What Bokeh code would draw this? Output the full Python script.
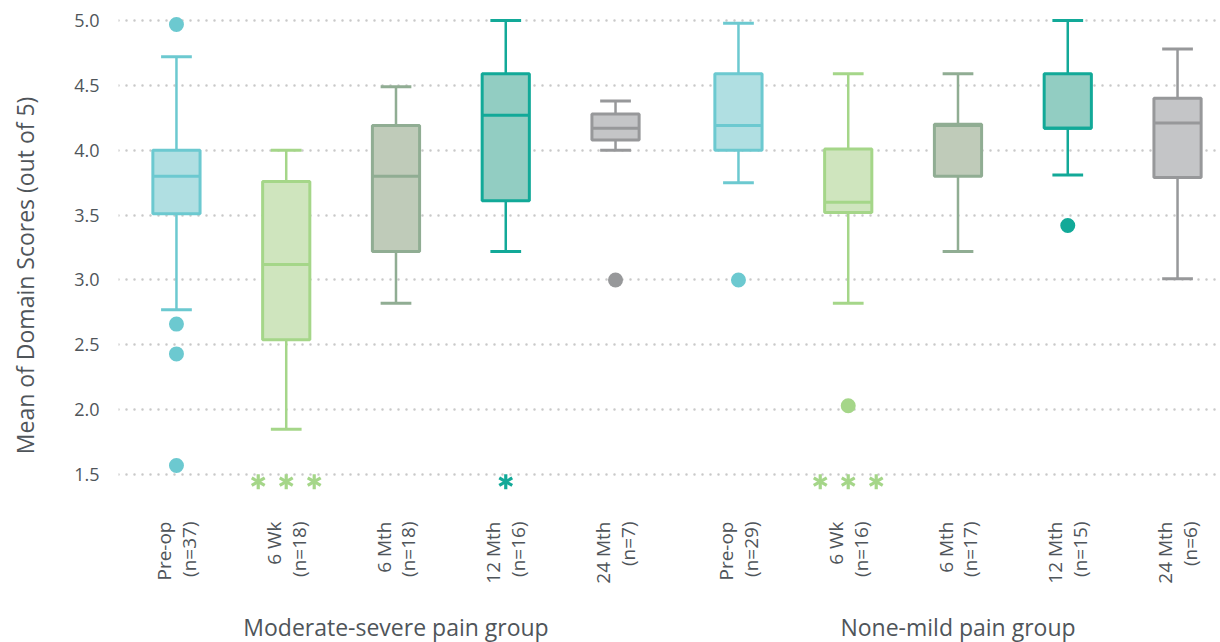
import math
from bokeh.plotting import figure
from bokeh.models import (ColumnDataSource, FixedTicker, LinearAxis, Range1d,
                          PrintfTickFormatter)
from bokeh.embed import file_html
from bokeh.resources import INLINE

# ---------------- data ----------------
groups = ["Moderate-severe pain group", "None-mild pain group"]
timepoints = ["Pre-op", "6 Wk", "6 Mth", "12 Mth", "24 Mth"]
n_mod = [37, 18, 18, 16, 7]
n_none = [29, 16, 17, 15, 6]

# box statistics per group (Pre-op, 6 Wk, 6 Mth, 12 Mth, 24 Mth)
lower_mod = [2.77, 1.85, 2.82, 3.22, 4.00]
q1_mod = [3.51, 2.54, 3.22, 3.61, 4.08]
median_mod = [3.80, 3.12, 3.80, 4.27, 4.17]
q3_mod = [4.00, 3.76, 4.19, 4.59, 4.28]
upper_mod = [4.72, 4.00, 4.49, 5.00, 4.38]

lower_none = [3.75, 2.82, 3.22, 3.81, 3.01]
q1_none = [4.00, 3.52, 3.80, 4.17, 3.79]
median_none = [4.19, 3.60, 4.19, 4.17, 4.21]
q3_none = [4.59, 4.01, 4.20, 4.59, 4.40]
upper_none = [4.98, 4.59, 4.59, 5.00, 4.78]

# outliers: (timepoint index, value)
outliers_mod = [(0, 4.97), (0, 2.66), (0, 2.43), (0, 1.57), (4, 3.00)]
outliers_none = [(0, 3.00), (1, 2.03), (3, 3.42)]

# extreme (off-scale) cases, shown as asterisks below the axis
extremes_mod = [0, 3, 0, 1, 0]
extremes_none = [0, 3, 0, 0, 0]
EXTREME_Y = 1.445

y_ticks = [1.5, 2.0, 2.5, 3.0, 3.5, 4.0, 4.5, 5.0]
y_title = "Mean of Domain Scores (out of 5)"

# ---------------- styles ----------------
line_colors = ["#6cc9d0", "#a5d689", "#90ad93", "#12a998", "#97989a"]
fill_colors = ["#b0dfe2", "#cfe5be", "#bfcbb9", "#92cdc2", "#c4c5c7"]
TEXT = "#4f555a"
FONT = "Open Sans"
GROUP_GAP = 0.12
BOX_W = 0.43
CAP_W = 0.28

def xpos(g, i):
    return g * (len(timepoints) + GROUP_GAP) + i

xs, q1s, q3s, meds, los, his, lc, fc, labels = [], [], [], [], [], [], [], [], []
for g, (lo, q1, md, q3, hi, ns) in enumerate([
        (lower_mod, q1_mod, median_mod, q3_mod, upper_mod, n_mod),
        (lower_none, q1_none, median_none, q3_none, upper_none, n_none)]):
    for i in range(len(timepoints)):
        x = xpos(g, i)
        xs.append(x)
        q1s.append(q1[i]); q3s.append(q3[i]); meds.append(md[i])
        los.append(lo[i]); his.append(hi[i])
        lc.append(line_colors[i]); fc.append(fill_colors[i])
        labels.append(f"{timepoints[i]}\n(n={ns[i]})")

src = ColumnDataSource(dict(
    x=xs, q1=q1s, q3=q3s, med=meds, lo=los, hi=his, lc=lc, fc=fc,
    xl=[x - BOX_W / 2 for x in xs], xr=[x + BOX_W / 2 for x in xs],
    cl=[x - CAP_W / 2 for x in xs], cr=[x + CAP_W / 2 for x in xs],
))

ox, oy, oc = [], [], []
for g, outs in enumerate([outliers_mod, outliers_none]):
    for i, v in outs:
        ox.append(xpos(g, i)); oy.append(v); oc.append(line_colors[i])

ex, ey, ec = [], [], []
for g, ext in enumerate([extremes_mod, extremes_none]):
    for i, cnt in enumerate(ext):
        for k in range(cnt):
            off = (k - (cnt - 1) / 2) * 0.255
            ex.append(xpos(g, i) + off); ey.append(EXTREME_Y); ec.append(line_colors[i])

# ---------------- figure ----------------
p = figure(frame_width=1098, frame_height=478, output_backend="svg", toolbar_location=None,
           x_range=Range1d(-0.528, 9.475), y_range=Range1d(1.377, 5.062),
           min_border_top=12, min_border_left=118, min_border_right=0,
           min_border_bottom=0)
p.outline_line_color = None
p.background_fill_color = "white"

# whiskers
p.segment(x0="x", y0="q3", x1="x", y1="hi", source=src, line_color="lc", line_width=2.5)
p.segment(x0="x", y0="q1", x1="x", y1="lo", source=src, line_color="lc", line_width=2.5)
# caps
p.segment(x0="cl", y0="hi", x1="cr", y1="hi", source=src, line_color="lc", line_width=3)
p.segment(x0="cl", y0="lo", x1="cr", y1="lo", source=src, line_color="lc", line_width=3)
# boxes
p.vbar(x="x", width=BOX_W, bottom="q1", top="q3", source=src,
       fill_color="fc", line_color="lc", line_width=3)
# medians
p.segment(x0="xl", y0="med", x1="xr", y1="med", source=src, line_color="lc", line_width=3)

# outliers
p.scatter(ox, oy, size=15, color=oc, line_color=None)
# extremes: six-armed asterisks built from three dashes
for ang in (math.pi / 2, math.pi / 6, -math.pi / 6):
    p.scatter(ex, ey, marker="dash", size=15, angle=ang, line_color=ec, line_width=3.2)

# grid
p.xgrid.grid_line_color = None
p.ygrid.ticker = FixedTicker(ticks=y_ticks)
p.ygrid.grid_line_color = "#c9c9c9"
p.ygrid.grid_line_width = 2.5
p.ygrid.grid_line_dash = "0 8"
p.ygrid.grid_line_cap = "round"

# y axis
ya = p.yaxis[0]
ya.ticker = FixedTicker(ticks=y_ticks)
ya.formatter = PrintfTickFormatter(format="%.1f")
ya.axis_line_color = None
ya.major_tick_line_color = None
ya.minor_tick_line_color = None
ya.major_label_text_font = FONT
ya.major_label_text_font_size = "18px"
ya.major_label_text_color = TEXT
ya.major_label_standoff = 13
# trailing no-break spaces nudge the visible title slightly below the frame centre
ya.axis_label = y_title + "\u00a0" * 8
ya.axis_label_text_font = FONT
ya.axis_label_text_font_size = "23px"
ya.axis_label_text_font_style = "normal"
ya.axis_label_text_color = TEXT
ya.axis_label_standoff = 30

# x axis (timepoints)
xa = p.xaxis[0]
xa.ticker = FixedTicker(ticks=xs)
xa.major_label_overrides = {x: lab for x, lab in zip(xs, labels)}
xa.major_label_orientation = math.pi / 2
xa.axis_line_color = None
xa.major_tick_line_color = None
xa.minor_tick_line_color = None
xa.major_label_text_font = FONT
xa.major_label_text_font_size = "19px"
xa.major_label_text_color = TEXT
xa.major_label_text_align = "right"
xa.major_label_text_line_height = 0.95
xa.major_label_standoff = 25

# group axis
centers = [xpos(g, (len(timepoints) - 1) / 2) for g in range(len(groups))]
ga = LinearAxis(ticker=FixedTicker(ticks=centers),
                major_label_overrides={c: gname for c, gname in zip(centers, groups)})
ga.axis_line_color = None
ga.major_tick_line_color = None
ga.minor_tick_line_color = None
ga.major_label_text_font = FONT
ga.major_label_text_font_size = "23px"
ga.major_label_text_color = TEXT
ga.major_label_standoff = 18
p.add_layout(ga, "below")

open("out.html", "w").write(file_html(p, INLINE))
